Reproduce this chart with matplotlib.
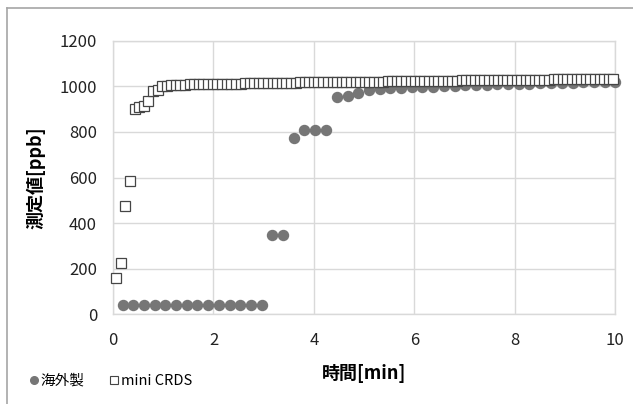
import matplotlib
matplotlib.use("Agg")
import matplotlib.pyplot as plt
from matplotlib.lines import Line2D

plt.rcParams['font.family'] = ['Noto Sans CJK JP', 'DejaVu Sans']

# 海外製 (circles)
t_kaigai = [0.19, 0.40, 0.61, 0.83, 1.04, 1.25, 1.47, 1.68, 1.89, 2.11, 2.32, 2.53, 2.75, 2.96,
            3.17, 3.39, 3.60, 3.81, 4.03, 4.24, 4.45, 4.67, 4.88, 5.09,
            5.31, 5.52, 5.73, 5.95, 6.16, 6.37, 6.59, 6.80, 7.01, 7.23, 7.44, 7.65,
            7.87, 8.08, 8.29, 8.51, 8.72, 8.93, 9.15, 9.36, 9.57, 9.79, 10.00]
v_kaigai = [40, 40, 40, 40, 40, 40, 40, 40, 40, 40, 40, 40, 40, 40,
            350, 350, 775, 808, 810, 810, 955, 957, 972, 984,
            988, 991, 993, 995, 997, 999, 1000, 1002, 1004, 1005, 1007, 1008,
            1010, 1011, 1012, 1013, 1014, 1015, 1016, 1017, 1018, 1019, 1020]

# mini CRDS (squares)
t_crds = [0.06, 0.15, 0.24, 0.34, 0.43, 0.52, 0.61, 0.70, 0.79, 0.89, 0.98, 1.07, 1.16,
          1.25, 1.34, 1.44, 1.53, 1.62, 1.71, 1.80, 1.89,
          1.99, 2.08, 2.17, 2.26, 2.35, 2.44, 2.54, 2.63, 2.72, 2.81, 2.90, 2.99,
          3.09, 3.18, 3.27, 3.36, 3.45, 3.54, 3.64, 3.73, 3.82, 3.91, 4.00,
          4.09, 4.19, 4.28, 4.37, 4.46, 4.55, 4.64, 4.74, 4.83, 4.92, 5.01,
          5.10, 5.19, 5.29, 5.38, 5.47, 5.56, 5.65, 5.74, 5.84, 5.93, 6.02,
          6.11, 6.20, 6.29, 6.39, 6.48, 6.57, 6.66, 6.75, 6.84, 6.94, 7.03,
          7.12, 7.21, 7.30, 7.39, 7.49, 7.58, 7.67, 7.76, 7.85, 7.94, 8.04,
          8.13, 8.22, 8.31, 8.40, 8.49, 8.59, 8.68, 8.77, 8.86, 8.95, 9.04,
          9.14, 9.23, 9.32, 9.41, 9.50, 9.59, 9.69, 9.78, 9.87, 9.96]
v_crds = [160, 225, 475, 585, 900, 910, 912, 935, 980, 985, 1000, 1003, 1005,
          1006, 1007, 1007, 1008, 1008, 1009, 1009, 1010,
          1010, 1011, 1011, 1011, 1012, 1012, 1012, 1013, 1013, 1013, 1014, 1014,
          1014, 1015, 1015, 1015, 1016, 1016, 1016, 1017, 1017, 1017, 1018,
          1018, 1018, 1018, 1019, 1019, 1019, 1019, 1020, 1020, 1020, 1020,
          1021, 1021, 1021, 1021, 1022, 1022, 1022, 1022, 1023, 1023, 1023,
          1023, 1024, 1024, 1024, 1024, 1025, 1025, 1025, 1025, 1026, 1026,
          1026, 1026, 1026, 1027, 1027, 1027, 1027, 1027, 1028, 1028, 1028,
          1028, 1028, 1029, 1029, 1029, 1029, 1029, 1030, 1030, 1030, 1030,
          1030, 1030, 1031, 1031, 1031, 1031, 1031, 1032, 1032, 1032]

x_ticks = [0, 2, 4, 6, 8, 10]
y_ticks = [0, 200, 400, 600, 800, 1000, 1200]

W, H = 633, 404
fig = plt.figure(figsize=(W / 100, H / 100), dpi=100)
ax = fig.add_axes([113 / W, 1 - 314.3 / H, (615.3 - 113) / W, (314.3 - 40.7) / H])

grid_c = '#d9d9d9'
ax.plot(t_kaigai, v_kaigai, linestyle='none', marker='o', markersize=7.2,
        markerfacecolor='#767676', markeredgecolor='#767676', zorder=3, clip_on=False)
ax.plot(t_crds, v_crds, linestyle='none', marker='s', markersize=6.6,
        markerfacecolor='white', markeredgecolor='#454545', markeredgewidth=0.9,
        zorder=4, clip_on=False)

ax.set_xlim(0, 10)
ax.set_ylim(0, 1200)
ax.set_xticks(x_ticks)
ax.set_yticks(y_ticks)
ax.set_xticklabels([str(v) for v in x_ticks])
ax.set_yticklabels([str(v) for v in y_ticks])
ax.grid(True, color=grid_c, linewidth=1.0)
ax.set_axisbelow(True)
for s in ax.spines.values():
    s.set_color(grid_c)
    s.set_linewidth(1.0)
ax.tick_params(length=0, labelsize=12, colors='#222222')
ax.tick_params(axis='x', pad=12.5)
ax.tick_params(axis='y', pad=11.5)

ax.set_xlabel('時間[min]', fontsize=13, fontweight='bold', labelpad=11)
ax.set_ylabel('測定値[ppb]', fontsize=13, fontweight='bold', labelpad=10)

handles = [
    Line2D([], [], linestyle='none', marker='o', markersize=5.5,
           markerfacecolor='#767676', markeredgecolor='#767676'),
    Line2D([], [], linestyle='none', marker='s', markersize=5.5,
           markerfacecolor='white', markeredgecolor='#454545', markeredgewidth=0.8),
]
fig.legend(handles, ['海外製', 'mini CRDS'], loc='center left',
           bbox_to_anchor=(28 / W, 1 - 381 / H), ncol=2, frameon=False,
           fontsize=10.5, handletextpad=0.05, columnspacing=1.65, handlelength=0.8,
           borderaxespad=0, borderpad=0)

# outer frame lines (left and top visible)
fig.add_artist(Line2D([7.5 / W, 7.5 / W], [0, 1 - 8 / H], transform=fig.transFigure,
                      color='#a6a6a6', linewidth=1.2))
fig.add_artist(Line2D([7.5 / W, 1], [1 - 8 / H, 1 - 8 / H], transform=fig.transFigure,
                      color='#a6a6a6', linewidth=1.2))

fig.savefig('out.png', dpi=100)
